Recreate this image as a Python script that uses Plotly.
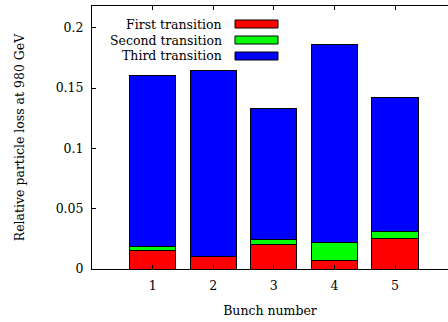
import plotly.graph_objects as go

# Relative particle loss per bunch, split by transition
bunches = [1, 2, 3, 4, 5]
first_transition = [0.0152, 0.0102, 0.0199, 0.0074, 0.0254]
second_transition = [0.0036, 0.0, 0.0047, 0.0147, 0.0060]
third_transition = [0.1415, 0.1545, 0.1086, 0.1636, 0.1104]

series_names = ["First transition", "Second transition", "Third transition"]
series_values = [first_transition, second_transition, third_transition]
series_colors = ["#ff0000", "#00ff00", "#0000ff"]

y_ticks = [0, 0.05, 0.1, 0.15, 0.2]
y_tick_labels = ["0", "0.05", "0.1", "0.15", "0.2"]

FONT = "DejaVu Serif"
FS = 12.5

fig = go.Figure()
for name, vals, col in zip(series_names, series_values, series_colors):
    fig.add_trace(go.Bar(
        x=bunches, y=vals, name=name, width=0.76,
        marker=dict(color=col, line=dict(color="black", width=1)),
        showlegend=False,
    ))

# gnuplot-style key: right-aligned text with the swatch to its right
plot_left, plot_right, plot_top, plot_bottom = 92, 448, 6, 269
pw, ph = plot_right - plot_left, plot_bottom - plot_top
text_right = 224
sw_x0, sw_x1 = 235, 278
row_y = [24, 40, 56]
for name, col, ry in zip(series_names, series_colors, row_y):
    yc = (plot_bottom - ry) / ph
    fig.add_annotation(
        text=name, xref="paper", yref="paper",
        x=(text_right - plot_left) / pw, y=yc,
        xanchor="right", yanchor="middle", showarrow=False,
        font=dict(family=FONT, size=FS, color="black"),
    )
    fig.add_shape(
        type="rect", xref="paper", yref="paper",
        x0=(sw_x0 - plot_left) / pw, x1=(sw_x1 - plot_left) / pw,
        y0=yc - 4 / ph, y1=yc + 4 / ph,
        fillcolor=col, line=dict(color="black", width=1),
    )

x_range = [0, pw / 60.6]
y_px_per_unit = (269 - 27.7) / 0.2

fig.update_layout(
    barmode="stack",
    width=448, height=322,
    margin=dict(l=plot_left, r=0, t=plot_top, b=322 - plot_bottom),
    plot_bgcolor="white", paper_bgcolor="white",
    font=dict(family=FONT, size=FS, color="black"),
    xaxis=dict(
        range=x_range, tickvals=bunches, ticktext=[str(b) for b in bunches],
        ticks="inside", ticklen=4, tickcolor="black", mirror="allticks",
        showline=True, linecolor="black", linewidth=1, showgrid=False,
        zeroline=False, ticklabelstandoff=5,
        tickfont=dict(family=FONT, size=FS),
        title=dict(text="Bunch number", font=dict(family=FONT, size=FS), standoff=14),
    ),
    yaxis=dict(
        range=[0, ph / y_px_per_unit], tickvals=y_ticks, ticktext=y_tick_labels,
        ticks="inside", ticklen=4, tickcolor="black",
        showline=True, linecolor="black", linewidth=1, showgrid=False,
        zeroline=False, ticklabelstandoff=5,
        tickfont=dict(family=FONT, size=FS),
        title=dict(text="Relative particle loss at 980 GeV", font=dict(family=FONT, size=FS), standoff=28),
    ),
)

fig.write_html("out.html")
